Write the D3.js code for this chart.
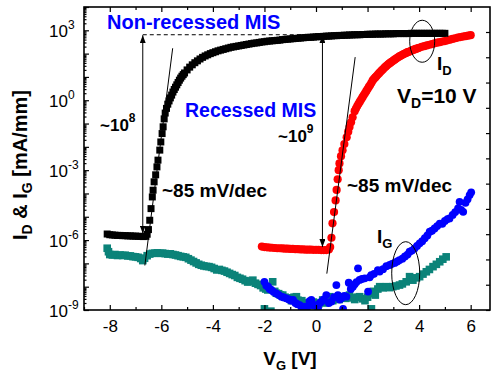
<!DOCTYPE html>
<html>
<head>
<meta charset="utf-8">
<script src="https://cdn.jsdelivr.net/npm/d3@7/dist/d3.min.js"></script>
<style>
  html, body { margin: 0; padding: 0; background: #fff; }
  svg { display: block; font-family: "Liberation Sans", Arial, sans-serif; }
</style>
</head>
<body>
<svg id="chart" width="493" height="373"></svg>
<script>
// each point: [VG (V), log10 of current (mA/mm)]
const idNonRecessed = [
  [-8.1,-5.74],[-8.0,-5.77],[-7.9,-5.78],[-7.8,-5.79],[-7.7,-5.8],[-7.6,-5.8],[-7.5,-5.81],[-7.4,-5.81],
  [-7.3,-5.82],[-7.2,-5.82],[-7.1,-5.83],[-7.0,-5.83],[-6.9,-5.84],[-6.8,-5.84],[-6.7,-5.85],[-6.6,-5.84],
  [-6.55,-5.75],[-6.5,-5.55],[-6.45,-5.15],[-6.4,-4.65],[-6.35,-4.15],[-6.32,-3.86],[-6.28,-3.5],[-6.22,-3.2],
  [-6.17,-2.86],[-6.13,-2.57],[-6.06,-2.14],[-6.02,-1.79],[-5.97,-1.43],[-5.93,-1.14],[-5.89,-0.8],[-5.85,-0.55],
  [-5.8,-0.35],[-5.75,-0.17],[-5.7,-0.03],[-5.65,0.1],[-5.6,0.22],[-5.55,0.35],[-5.5,0.46],[-5.45,0.56],
  [-5.4,0.66],[-5.35,0.76],[-5.3,0.86],[-5.25,0.95],[-5.2,1.03],[-5.15,1.1],[-5.1,1.17],[-5.0,1.3],
  [-4.9,1.42],[-4.8,1.52],[-4.7,1.61],[-4.6,1.69],[-4.5,1.77],[-4.4,1.84],[-4.3,1.9],[-4.2,1.95],
  [-4.1,2.0],[-4.0,2.04],[-3.9,2.08],[-3.8,2.12],[-3.7,2.15],[-3.6,2.18],[-3.5,2.21],[-3.4,2.24],
  [-3.3,2.27],[-3.2,2.29],[-3.1,2.31],[-3.0,2.33],[-2.9,2.35],[-2.8,2.37],[-2.7,2.39],[-2.6,2.41],
  [-2.5,2.43],[-2.4,2.45],[-2.3,2.46],[-2.2,2.48],[-2.1,2.5],[-2.0,2.51],[-1.9,2.53],[-1.8,2.54],
  [-1.7,2.55],[-1.6,2.56],[-1.5,2.57],[-1.4,2.58],[-1.3,2.6],[-1.2,2.61],[-1.1,2.62],[-1.0,2.63],
  [-0.9,2.64],[-0.8,2.65],[-0.7,2.66],[-0.6,2.67],[-0.5,2.68],[-0.4,2.69],[-0.3,2.7],[-0.2,2.7],
  [-0.1,2.71],[0.0,2.72],[0.1,2.73],[0.2,2.73],[0.3,2.74],[0.4,2.75],[0.5,2.75],[0.6,2.76],
  [0.7,2.77],[0.8,2.77],[0.9,2.78],[1.0,2.78],[1.1,2.79],[1.2,2.79],[1.3,2.8],[1.4,2.8],
  [1.5,2.81],[1.6,2.81],[1.7,2.81],[1.8,2.82],[1.9,2.82],[2.0,2.83],[2.1,2.83],[2.2,2.83],
  [2.3,2.84],[2.4,2.84],[2.5,2.84],[2.6,2.84],[2.7,2.85],[2.8,2.85],[2.9,2.85],[3.0,2.85],
  [3.1,2.86],[3.2,2.86],[3.3,2.86],[3.4,2.86],[3.5,2.86],[3.6,2.86],[3.7,2.87],[3.8,2.87],
  [3.9,2.87],[4.0,2.87],[4.1,2.87],[4.2,2.87],[4.3,2.87],[4.4,2.87],[4.5,2.87],[4.6,2.87],
  [4.7,2.87],[4.8,2.87],[4.9,2.87],[5.0,2.87]
];

const idRecessed = [
  [-2.1,-6.28],[-2.0,-6.3],[-1.9,-6.31],[-1.8,-6.32],[-1.7,-6.33],[-1.6,-6.34],[-1.5,-6.35],[-1.4,-6.35],
  [-1.3,-6.36],[-1.2,-6.37],[-1.1,-6.37],[-1.0,-6.38],[-0.9,-6.38],[-0.8,-6.39],[-0.7,-6.39],[-0.6,-6.4],
  [-0.5,-6.4],[-0.4,-6.41],[-0.3,-6.41],[-0.2,-6.41],[-0.1,-6.42],[0.0,-6.42],[0.1,-6.42],[0.2,-6.43],
  [0.3,-6.43],[0.4,-6.43],[0.5,-6.4],[0.55,-6.3],[0.6,-5.9],[0.64,-5.28],[0.7,-4.8],[0.76,-4.3],
  [0.8,-3.85],[0.84,-3.39],[0.88,-3.0],[0.91,-2.71],[0.97,-2.4],[1.03,-2.15],[1.1,-1.88],[1.19,-1.59],
  [1.25,-1.35],[1.3,-1.15],[1.36,-0.95],[1.42,-0.73],[1.5,-0.47],[1.55,-0.36],[1.6,-0.25],[1.65,-0.15],
  [1.7,-0.06],[1.75,0.03],[1.8,0.12],[1.85,0.21],[1.9,0.3],[1.95,0.39],[2.0,0.48],[2.05,0.57],
  [2.1,0.65],[2.15,0.75],[2.2,0.85],[2.25,0.92],[2.3,0.98],[2.35,1.04],[2.4,1.1],[2.45,1.16],
  [2.5,1.22],[2.55,1.28],[2.6,1.33],[2.65,1.39],[2.7,1.44],[2.75,1.49],[2.8,1.54],[2.85,1.58],
  [2.9,1.62],[2.95,1.66],[3.0,1.7],[3.05,1.74],[3.1,1.78],[3.15,1.82],[3.2,1.85],[3.25,1.89],
  [3.3,1.92],[3.35,1.95],[3.4,1.98],[3.45,2.0],[3.5,2.03],[3.55,2.06],[3.6,2.08],[3.65,2.1],
  [3.7,2.12],[3.75,2.15],[3.8,2.17],[3.85,2.19],[3.9,2.21],[3.95,2.23],[4.0,2.25],[4.1,2.29],
  [4.2,2.32],[4.3,2.35],[4.4,2.38],[4.5,2.41],[4.6,2.44],[4.7,2.47],[4.8,2.49],[4.9,2.52],
  [5.0,2.54],[5.1,2.57],[5.2,2.6],[5.3,2.63],[5.4,2.66],[5.5,2.69],[5.6,2.71],[5.7,2.73],
  [5.8,2.75],[5.9,2.77],[6.0,2.79]
];

const igNonRecessed = [
  [-8.1,-6.35],[-8.05,-6.5],[-8.0,-6.62],[-7.9,-6.64],[-7.8,-6.62],[-7.7,-6.66],[-7.6,-6.64],[-7.5,-6.66],
  [-7.4,-6.65],[-7.3,-6.68],[-7.2,-6.68],[-7.1,-6.71],[-7.0,-6.72],[-6.9,-6.74],[-6.8,-6.79],[-6.72,-6.88],
  [-6.65,-6.78],[-6.55,-6.67],[-6.45,-6.6],[-6.35,-6.57],[-6.25,-6.56],[-6.15,-6.55],[-6.05,-6.57],[-5.95,-6.56],
  [-5.85,-6.58],[-5.75,-6.6],[-5.65,-6.59],[-5.55,-6.62],[-5.45,-6.64],[-5.35,-6.67],[-5.25,-6.7],[-5.15,-6.72],
  [-5.05,-6.74],[-4.95,-6.8],[-4.85,-6.86],[-4.75,-6.92],[-4.65,-6.98],[-4.55,-7.04],[-4.45,-7.08],[-4.35,-7.11],
  [-4.25,-7.13],[-4.15,-7.14],[-4.05,-7.17],[-3.95,-7.22],[-3.85,-7.28],[-3.75,-7.26],[-3.65,-7.3],[-3.55,-7.33],
  [-3.45,-7.38],[-3.35,-7.43],[-3.25,-7.48],[-3.15,-7.52],[-3.05,-7.6],[-2.95,-7.64],[-2.85,-7.68],[-2.75,-7.74],
  [-2.65,-7.8],[-2.55,-7.78],[-2.45,-7.72],[-2.35,-7.85],[-2.25,-7.9],[-2.15,-7.95],[-2.05,-8.05],[-2.0,-8.95],
  [-1.95,-8.1],[-1.87,-8.14],[-1.75,-9.05],[-1.68,-7.79],[-1.6,-8.2],[-1.54,-8.28],[-1.45,-8.3],[-1.38,-8.36],
  [-1.29,-8.36],[-1.2,-8.45],[-1.1,-8.48],[-1.02,-8.5],[-0.95,-8.6],[-0.85,-8.45],[-0.76,-8.43],[-0.7,-8.58],
  [-0.63,-8.64],[-0.55,-8.6],[-0.45,-8.72],[-0.32,-8.7],[-0.2,-8.82],[-0.1,-8.66],[0.01,-8.7],[0.1,-8.75],
  [0.26,-8.57],[0.35,-8.7],[0.45,-8.62],[0.53,-8.43],[0.65,-8.6],[0.79,-8.5],[0.9,-8.55],[1.03,-8.43],
  [1.15,-8.5],[1.3,-8.36],[1.4,-8.48],[1.5,-8.55],[1.6,-8.45],[1.69,-8.43],[1.8,-8.52],[1.9,-8.6],
  [2.0,-8.45],[2.08,-8.3],[2.15,-8.95],[2.22,-8.2],[2.3,-8.36],[2.4,-8.1],[2.47,-8.0],[2.6,-8.05],
  [2.73,-8.0],[2.85,-8.04],[2.98,-8.0],[3.1,-7.97],[3.24,-7.93],[3.35,-7.88],[3.5,-7.79],[3.63,-7.57],
  [3.76,-7.72],[3.9,-7.62],[4.02,-7.57],[4.15,-7.46],[4.28,-7.36],[4.4,-7.26],[4.54,-7.14],[4.67,-7.04],
  [4.8,-6.93],[4.92,-6.82],[5.05,-6.72]
];

const igRecessed = [
  [-2.0,-7.79],[-1.93,-7.95],[-1.86,-8.0],[-1.8,-8.1],[-1.73,-8.14],[-1.65,-8.22],[-1.54,-8.29],[-1.45,-8.35],
  [-1.34,-8.43],[-1.25,-8.46],[-1.15,-8.5],[-1.05,-8.55],[-0.95,-8.6],[-0.89,-8.57],[-0.8,-8.7],[-0.72,-8.75],
  [-0.63,-8.79],[-0.55,-8.95],[-0.44,-8.86],[-0.35,-8.9],[-0.25,-8.62],[-0.18,-8.57],[-0.1,-8.8],[0.01,-8.79],
  [0.08,-8.95],[0.15,-8.7],[0.21,-8.64],[0.3,-8.55],[0.4,-8.36],[0.5,-8.7],[0.6,-8.64],[0.7,-8.45],
  [0.79,-7.93],[0.85,-8.36],[0.92,-8.55],[0.98,-8.5],[1.05,-8.95],[1.1,-8.4],[1.18,-8.43],[1.27,-7.83],
  [1.35,-8.1],[1.43,-8.0],[1.5,-7.9],[1.57,-7.8],[1.63,-7.21],[1.69,-7.71],[1.78,-7.67],[1.89,-7.64],
  [2.02,-8.21],[2.08,-7.6],[2.14,-7.5],[2.25,-7.45],[2.4,-7.29],[2.47,-7.35],[2.6,-7.25],[2.73,-7.12],
  [2.86,-7.07],[2.95,-7.02],[3.05,-6.98],[3.15,-6.92],[3.24,-6.86],[3.35,-6.8],[3.45,-6.7],[3.55,-6.62],
  [3.63,-6.5],[3.72,-6.45],[3.82,-6.36],[3.92,-6.25],[4.02,-6.14],[4.12,-6.05],[4.22,-5.92],[4.32,-5.8],
  [4.41,-5.64],[4.5,-5.6],[4.6,-5.5],[4.7,-5.4],[4.8,-5.29],[4.9,-5.3],[5.0,-5.18],[5.1,-5.1],
  [5.18,-5.07],[5.3,-4.92],[5.4,-4.8],[5.51,-4.64],[5.57,-4.36],[5.63,-4.7],[5.71,-4.79],[5.8,-4.4],
  [5.88,-4.25],[5.96,-4.07],[6.02,-3.95]
];

const xMajorTicks = [-8, -6, -4, -2, 0, 2, 4, 6];
const xMinorTicks = [-9, -7, -5, -3, -1, 1, 3, 5];
const yLabelExps = [-9, -6, -3, 0, 3];

// annotation geometry in data units
const onOffArrows = [ { vg: -6.72, top: 2.79, bottom: -5.72 }, { vg: 0.25, top: 2.79, bottom: -6.3 } ];
const slopeLines = [ [-5.56, 2.23, -6.64, -7.09], [1.52, 1.85, 0.42, -7.44] ];
const ionLevel = 2.81;

const svg = d3.select('#chart');
const L = 84, R = 490, T = 7, B = 310;

const x = d3.scaleLinear().domain([-9, 6.75]).range([L, R]);
const y = d3.scaleLog().domain([1e-9, 1e4]).range([B, T]);
const yRight = d3.scaleLog().domain([1e-9, 1e2]).range([B, 32]);
const P = v => y(Math.pow(10, v));

svg.append('defs').append('clipPath').attr('id', 'plot')
  .append('rect').attr('x', L).attr('y', T).attr('width', R - L).attr('height', B - T);
svg.select('defs').append('marker')
  .attr('id', 'ah').attr('markerUnits', 'userSpaceOnUse')
  .attr('markerWidth', 8).attr('markerHeight', 6).attr('refX', 8).attr('refY', 3)
  .attr('orient', 'auto-start-reverse')
  .append('path').attr('d', 'M0,0 L8,3 L0,6 Z').attr('fill', '#000');

const plot = svg.append('g').attr('clip-path', 'url(#plot)');

// dashed on-current level
plot.append('line')
  .attr('x1', x(-6.72)).attr('x2', x(5.0)).attr('y1', P(ionLevel)).attr('y2', P(ionLevel))
  .attr('stroke', '#000').attr('stroke-width', 1).attr('stroke-dasharray', '4,3');

// gate currents
plot.append('g').selectAll('rect')
  .data(igNonRecessed).join('rect')
  .attr('x', d => x(d[0]) - 3.8).attr('y', d => P(d[1]) - 3.8)
  .attr('width', 7.6).attr('height', 7.6).attr('fill', '#0b8379');

plot.append('g').selectAll('circle')
  .data(igRecessed).join('circle')
  .attr('cx', d => x(d[0])).attr('cy', d => P(d[1])).attr('r', 3.9).attr('fill', '#0000ff');

// drain currents
plot.append('g').selectAll('circle')
  .data(idRecessed).join('circle')
  .attr('cx', d => x(d[0])).attr('cy', d => P(d[1])).attr('r', 4.1).attr('fill', '#ff0000');

plot.append('g').selectAll('rect')
  .data(idNonRecessed).join('rect')
  .attr('x', d => x(d[0]) - 3.5).attr('y', d => P(d[1]) - 3.5)
  .attr('width', 7).attr('height', 7).attr('fill', '#000');

// subthreshold slope lines
plot.append('g').selectAll('line')
  .data(slopeLines).join('line')
  .attr('x1', d => x(d[0])).attr('y1', d => P(d[1]))
  .attr('x2', d => x(d[2])).attr('y2', d => P(d[3]))
  .attr('stroke', '#000').attr('stroke-width', 1);

// on/off ratio arrows
svg.append('g').selectAll('line')
  .data(onOffArrows).join('line')
  .attr('x1', d => x(d.vg)).attr('x2', d => x(d.vg))
  .attr('y1', d => P(d.top)).attr('y2', d => P(d.bottom))
  .attr('stroke', '#000').attr('stroke-width', 1)
  .attr('marker-start', 'url(#ah)').attr('marker-end', 'url(#ah)');

// ellipses
svg.append('ellipse').attr('cx', x(4.12)).attr('cy', P(2.53)).attr('rx', 12.5).attr('ry', 21)
  .attr('fill', 'none').attr('stroke', '#000').attr('stroke-width', 1);
svg.append('ellipse').attr('cx', x(3.48)).attr('cy', P(-7.42)).attr('rx', 14).attr('ry', 31.5)
  .attr('fill', 'none').attr('stroke', '#000').attr('stroke-width', 1);

// axes: all ticks point inward
const axes = svg.append('g');
const strip = g => { g.select('.domain').remove(); g.selectAll('line').attr('stroke', '#000').attr('stroke-width', 1.2); };

axes.append('g').attr('transform', `translate(0,${B})`)
  .call(d3.axisBottom(x).tickValues(xMajorTicks).tickSize(-5).tickPadding(10).tickFormat(d => d < 0 ? '-' + Math.abs(d) : d))
  .call(strip)
  .call(g => g.selectAll('text').attr('font-size', 17).attr('fill', '#000').attr('font-family', '"Liberation Sans", Arial, sans-serif'));
axes.append('g').attr('transform', `translate(0,${B})`)
  .call(d3.axisBottom(x).tickValues(xMinorTicks).tickSize(-3).tickFormat(''))
  .call(strip);
axes.append('g').attr('transform', `translate(0,${T})`)
  .call(d3.axisTop(x).tickValues(xMajorTicks).tickSize(-5).tickFormat(''))
  .call(strip);
axes.append('g').attr('transform', `translate(0,${T})`)
  .call(d3.axisTop(x).tickValues(xMinorTicks).tickSize(-3).tickFormat(''))
  .call(strip);

const decades = d3.range(-9, 5).map(k => Math.pow(10, k));
const minors = [];
d3.range(-9, 4).forEach(k => { for (let m = 2; m <= 9; m++) minors.push(m * Math.pow(10, k)); });

axes.append('g').attr('transform', `translate(${L},0)`)
  .call(d3.axisLeft(y).tickValues(decades).tickSize(-5).tickFormat(''))
  .call(strip);
axes.append('g').attr('transform', `translate(${L},0)`)
  .call(d3.axisLeft(y).tickValues(minors).tickSize(-2.5).tickFormat(''))
  .call(strip);
axes.append('g').attr('transform', `translate(${R},0)`)
  .call(d3.axisRight(yRight).tickValues(d3.range(-9, 3).map(k => Math.pow(10, k))).tickSize(-4).tickFormat(''))
  .call(strip);

// y tick labels 10^n
const yLab = axes.append('g').selectAll('text')
  .data(yLabelExps).join('text')
  .attr('x', 49).attr('y', d => P(d) + 6.5)
  .attr('font-size', 17).attr('fill', '#000');
yLab.append('tspan').text('10');
yLab.append('tspan').attr('font-size', 12).attr('dy', -7.5).text(d => d < 0 ? '-' + Math.abs(d) : d);

// frame
svg.append('rect').attr('x', L).attr('y', T).attr('width', R - L).attr('height', B - T)
  .attr('fill', 'none').attr('stroke', '#000').attr('stroke-width', 1.6);

// axis titles
const xt = svg.append('text').attr('x', 290).attr('y', 365).attr('text-anchor', 'middle')
  .attr('font-size', 19).attr('font-weight', 'bold');
xt.append('tspan').text('V');
xt.append('tspan').attr('font-size', 13).attr('dy', 5).text('G');
xt.append('tspan').attr('dy', -5).text(' [V]');

const yt = svg.append('text').attr('transform', 'translate(27,165) rotate(-90)').attr('text-anchor', 'middle')
  .attr('font-size', 20).attr('font-weight', 'bold');
yt.append('tspan').text('I');
yt.append('tspan').attr('font-size', 14).attr('dy', 5).text('D');
yt.append('tspan').attr('dy', -5).text(' & I');
yt.append('tspan').attr('font-size', 14).attr('dy', 5).text('G');
yt.append('tspan').attr('dy', -5).text(' [mA/mm]');

// annotations
const ann = svg.append('g').attr('font-weight', 'bold').attr('fill', '#000');
ann.append('text').attr('x', 107).attr('y', 29).attr('font-size', 20).attr('fill', '#0000ff').text('Non-recessed MIS');
ann.append('text').attr('x', 185).attr('y', 117).attr('font-size', 19.5).attr('fill', '#0000ff').text('Recessed MIS');

const r8 = ann.append('text').attr('x', 100).attr('y', 131).attr('font-size', 17);
r8.append('tspan').text('~10');
r8.append('tspan').attr('font-size', 12).attr('dy', -9).text('8');
const r9 = ann.append('text').attr('x', 278).attr('y', 141.5).attr('font-size', 17);
r9.append('tspan').text('~10');
r9.append('tspan').attr('font-size', 12).attr('dy', -9).text('9');

ann.append('text').attr('x', 162).attr('y', 197).attr('font-size', 19).text('~85 mV/dec');
ann.append('text').attr('x', 347).attr('y', 192).attr('font-size', 19).text('~85 mV/dec');

const idl = ann.append('text').attr('x', 437).attr('y', 70).attr('font-size', 19);
idl.append('tspan').text('I');
idl.append('tspan').attr('font-size', 13).attr('dy', 5).text('D');
const vd = ann.append('text').attr('x', 397).attr('y', 103).attr('font-size', 21);
vd.append('tspan').text('V');
vd.append('tspan').attr('font-size', 14).attr('dy', 5).text('D');
vd.append('tspan').attr('dy', -5).text('=10 V');
const igl = ann.append('text').attr('x', 377).attr('y', 243).attr('font-size', 19);
igl.append('tspan').text('I');
igl.append('tspan').attr('font-size', 13).attr('dy', 5).text('G');
</script>
</body>
</html>
